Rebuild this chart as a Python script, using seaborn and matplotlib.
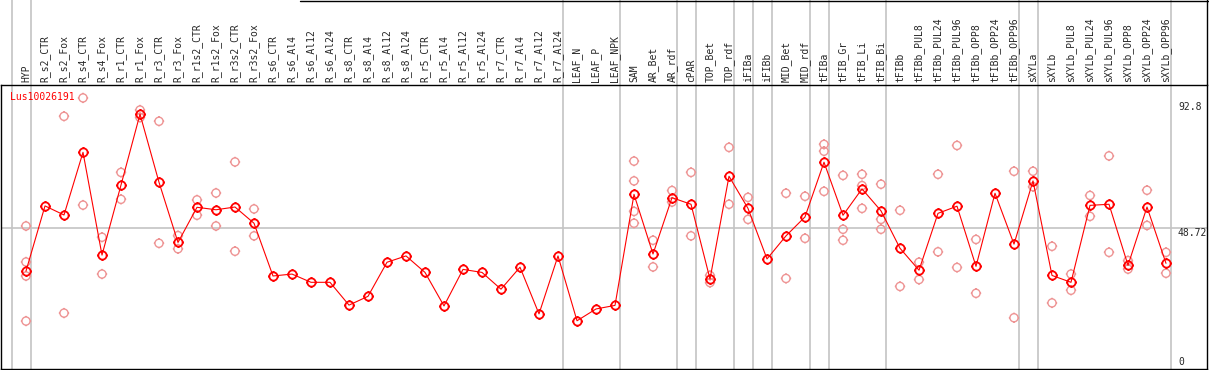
import numpy as np
import pandas as pd
import matplotlib
matplotlib.use("Agg")
import matplotlib.pyplot as plt
import seaborn as sns
from matplotlib.path import Path
from matplotlib.lines import Line2D

# sample names, in plotting order
samples = [
    "HYP", "R_s2_CTR", "R_s2_Fox", "R_s4_CTR", "R_s4_Fox", "R_r1_CTR", "R_r1_Fox",
    "R_r3_CTR", "R_r3_Fox", "R_r1s2_CTR", "R_r1s2_Fox", "R_r3s2_CTR", "R_r3s2_Fox",
    "R_s6_CTR", "R_s6_Al4", "R_s6_Al12", "R_s6_Al24", "R_s8_CTR", "R_s8_Al4",
    "R_s8_Al12", "R_s8_Al24", "R_r5_CTR", "R_r5_Al4", "R_r5_Al12", "R_r5_Al24",
    "R_r7_CTR", "R_r7_Al4", "R_r7_Al12", "R_r7_Al24", "LEAF_N", "LEAF_P", "LEAF_NPK",
    "SAM", "AR_Bet", "AR_rdf", "cPAR", "TOP_Bet", "TOP_rdf", "iFIBa", "iFIBb",
    "MID_Bet", "MID_rdf", "tFIBa", "tFIB_Gr", "tFIB_Li", "tFIB_Bi", "tFIBb",
    "tFIBb_PUL8", "tFIBb_PUL24", "tFIBb_PUL96", "tFIBb_OPP8", "tFIBb_OPP24",
    "tFIBb_OPP96", "sXYLa", "sXYLb", "sXYLb_PUL8", "sXYLb_PUL24", "sXYLb_PUL96",
    "sXYLb_OPP8", "sXYLb_OPP24", "sXYLb_OPP96",
]

# mean expression per sample
means = [
    33.1, 56.8, 53.5, 76.3, 38.9, 64.4, 90.2, 65.4, 43.5, 56.3, 55.4, 56.4, 50.5,
    31.3, 32.0, 29.0, 29.0, 20.7, 23.9, 36.3, 38.6, 32.6, 20.4, 33.7, 32.6,
    26.5, 34.5, 17.5, 38.6, 15.0, 19.3, 20.6,
    61.0, 39.3, 59.8, 57.4, 30.2, 67.6, 55.9, 37.5, 45.9, 52.8, 72.7, 53.4, 63.0,
    55.0, 41.4, 33.4, 54.1, 56.7, 34.8, 61.4, 42.9, 65.9, 31.5, 29.0, 57.0, 57.4,
    35.2, 56.4, 35.9,
]

# individual replicate values per sample
replicates = [
    [49.5, 36.4, 31.3, 14.9], [], [89.4, 17.8], [96.1, 57.1], [45.4, 32.0],
    [69.0, 59.2], [91.7, 89.0], [87.6, 43.2], [46.0, 41.2], [59.0, 53.4],
    [61.5, 49.5], [72.8, 40.3], [55.7, 45.9],
    [], [], [], [], [], [], [], [], [], [], [], [], [], [], [], [], [], [], [],
    [73.1, 65.9, 54.8, 50.5], [44.3, 34.6], [62.4, 58.2], [69.0, 45.9],
    [31.5, 28.9], [78.1, 57.4], [59.9, 51.9], [], [61.4, 30.4], [60.3, 45.0],
    [79.2, 76.7, 62.1], [67.9, 48.3, 44.3], [68.3, 64.2, 55.9], [64.7, 51.9, 48.3],
    [55.2, 27.5], [36.3, 30.0], [68.3, 40.1], [78.8, 34.4], [44.6, 25.0], [],
    [69.4, 16.1], [69.4, 63.8], [42.1, 21.5], [32.0, 26.1], [60.6, 53.0],
    [75.0, 39.9], [36.9, 33.8], [62.5, 49.7], [39.9, 32.3],
]

# group boundaries (drawn just after these sample indices)
group_ends = [-1, 0, 28, 31, 34, 35, 37, 38, 39, 41, 42, 45, 52, 53, 60]

gene = "Lus10026191"
scale_labels = ["92.8", "48.72", "0"]
mid_value = 48.72

df_mean = pd.DataFrame({"pos": np.arange(len(samples)), "value": means})
df_rep = pd.DataFrame(
    [(i, v) for i, vals in enumerate(replicates) for v in vals],
    columns=["pos", "value"],
)

sns.set_style("white")
plt.rcParams["font.family"] = ["DejaVu Sans Mono"]

# ring marker with four short ticks, built from straight segments only
ang = np.linspace(0, 2 * np.pi, 33)
verts = [(np.cos(a), np.sin(a)) for a in ang]
codes = [Path.MOVETO] + [Path.LINETO] * (len(ang) - 1)
for (x0, y0), (x1, y1) in [((0, 1), (0, 1.28)), ((0, -1), (0, -1.28)),
                           ((1, 0), (1.28, 0)), ((-1, 0), (-1.28, 0))]:
    verts += [(x0, y0), (x1, y1)]
    codes += [Path.MOVETO, Path.LINETO]
ring = Path(verts, codes)

W, H = 1209, 370
fig = plt.figure(figsize=(W / 100, H / 100), dpi=100)
ax = fig.add_axes([1 / W, 1 / H, 1206 / W, 284 / H])

grey = "#c4c4c4"
pink = "#ee9494"

ax.axhline(mid_value, color=grey, lw=1.2, zorder=0)
for g in group_ends:
    ax.axvline(g + 0.24, ymin=0, ymax=1 + 85 / 284, color=grey, lw=1.2,
               clip_on=False, zorder=0)

sns.scatterplot(data=df_rep, x="pos", y="value", marker=ring, s=56,
                color=pink, facecolor="none", edgecolor=pink, linewidth=1.0,
                ax=ax, zorder=2, legend=False)
sns.lineplot(data=df_mean, x="pos", y="value", color="red", lw=0.8,
             marker=ring, markersize=7.6, markerfacecolor="none",
             markeredgecolor="red", markeredgewidth=1.3, ax=ax, zorder=3)

ax.set_xlim((1 - 26) / 19, (1207 - 26) / 19)
ax.set_ylim((362 - 369) / 2.748, (362 - 85) / 2.748)

ax.xaxis.tick_top()
ax.set_xticks(np.arange(len(samples)))
ax.set_xticklabels(samples, rotation=90, fontsize=7)
ax.tick_params(axis="x", length=0, pad=2.2)
ax.set_yticks([])
ax.set_xlabel("")
ax.set_ylabel("")

for s in ax.spines.values():
    s.set_color("black")
    s.set_linewidth(1.0)

# right border continues through the label strip
ax.axvline((1207 - 26) / 19, ymin=1, ymax=1 + 85 / 284, color="black",
           lw=1.0, clip_on=False)
fig.add_artist(Line2D([300 / W, 1], [1 - 0.5 / H, 1 - 0.5 / H],
                      color="black", lw=1.0, transform=fig.transFigure))

ax.text(-0.84, 96.4, gene, color="red", fontsize=7, ha="left", va="center")
x_lab = (1178 - 26) / 19
ax.text(x_lab, 92.8, scale_labels[0], fontsize=7, ha="left", va="center")
ax.text(x_lab, mid_value, scale_labels[1], fontsize=7, ha="left", va="top",
        clip_on=False)
ax.text(x_lab, 0, scale_labels[2], fontsize=7, ha="left", va="center")

fig.savefig("out.png", dpi=100, facecolor="white")
